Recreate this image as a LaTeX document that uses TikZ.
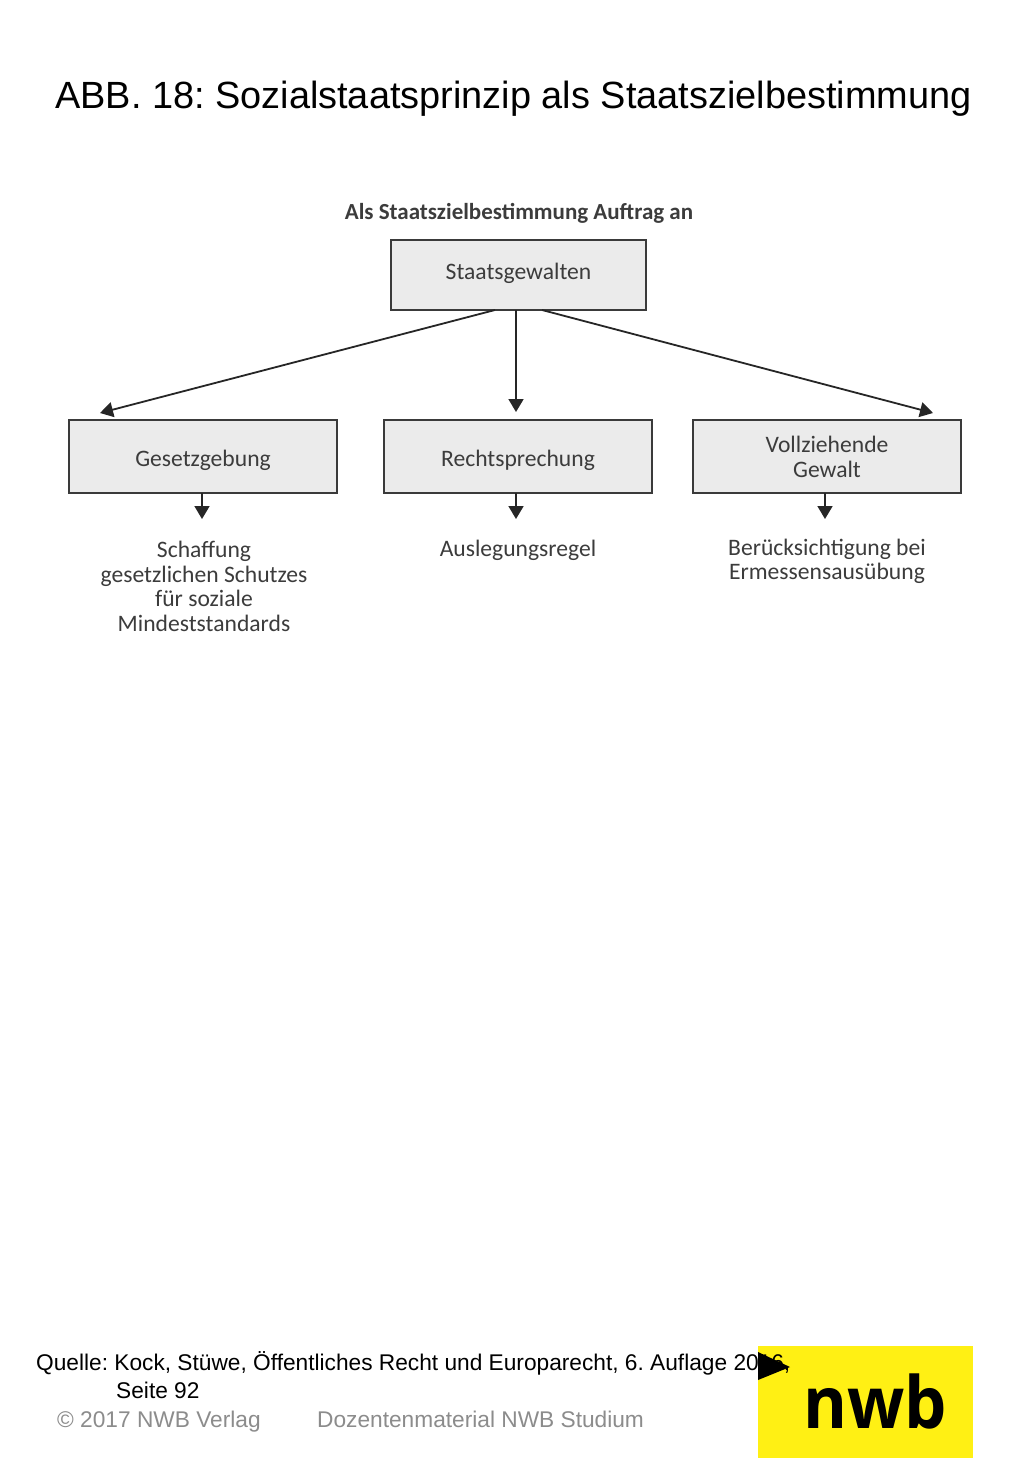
\documentclass[tikz,border=0pt]{standalone}
\usepackage{fontspec}
\setmainfont{Liberation Sans}
\newfontfamily\diag{Carlito}
\newfontfamily\logofont{Open Sans}
\usetikzlibrary{arrows.meta,calc}
\definecolor{boxfill}{HTML}{EBEBEB}
\definecolor{boxline}{HTML}{3A3A3A}
\definecolor{txtdiag}{HTML}{3C3C3C}
\definecolor{foot}{HTML}{8C8C8C}
\definecolor{nwbyellow}{HTML}{FFF014}
\tikzset{
  x=1pt,y=-1pt,
  boxnode/.style={draw=boxline,fill=boxfill,line width=2pt,inner sep=0pt,outer sep=0pt,anchor=north west,align=center,text=txtdiag,font=\diag\fontsize{23.6}{25}\selectfont},
  lbl/.style={inner sep=0pt,align=center,text=txtdiag,font=\diag\fontsize{23.6}{24.6}\selectfont},
  conn/.style={draw=black!85,line width=1.8pt,-{Stealth[length=13pt,width=15pt,inset=0pt]}},
  foottext/.style={inner sep=0pt,anchor=base west,font=\fontsize{22.7}{24}\selectfont},
}
\begin{document}
\frenchspacing
\begin{tikzpicture}
\useasboundingbox (0,0) rectangle (1024,1479);
\fill[white] (0,0) rectangle (1024,1479);
\node[inner sep=0pt,anchor=base west,font=\fontsize{37.9}{40}\selectfont] (title) at (55,109) {ABB. 18: Sozialstaatsprinzip als Staatszielbestimmung};
\node[inner sep=0pt,text=txtdiag,font=\diag\bfseries\fontsize{23}{24}\selectfont] (head) at (519,213) {Als Staatszielbestimmung Auftrag an};
\node[boxnode,minimum width=255pt,minimum height=70pt,text height=9.7pt,text depth=0pt] (sg) at (391,240) {Staatsgewalten};
\node[boxnode,minimum width=268pt,minimum height=73pt,text height=19.7pt,text depth=0pt] (ge) at (69,420) {Gesetzgebung};
\node[boxnode,minimum width=268pt,minimum height=73pt,text height=19.7pt,text depth=0pt] (re) at (384,420) {Rechtsprechung};
\node[boxnode,minimum width=268pt,minimum height=73pt] (vo) at (693,420) {Vollziehende\\Gewalt};
\node[lbl] (l1) at (204,586.5) {Schaffung\\gesetzlichen Schutzes\\für soziale\\Mindeststandards};
\node[lbl] (l2) at (518,550) {Auslegungsregel};
\node[lbl] (l3) at (827,561.5) {Berücksichtigung bei\\Ermessensausübung};
\coordinate (sgl) at (495,310);
\coordinate (sgm) at (516,310);
\coordinate (sgr) at (542,310);
\coordinate (gein) at (100,413);
\coordinate (rein) at (516,412);
\coordinate (voin) at (933,413);
\coordinate (geo) at (202,493);
\coordinate (reo) at (516,493);
\coordinate (voo) at (825,493);
\coordinate (gee) at (202,519);
\coordinate (ree) at (516,519);
\coordinate (voe) at (825,519);
\draw[conn] (sgl) -- (gein);
\draw[conn] (sgm) -- (rein);
\draw[conn] (sgr) -- (voin);
\draw[conn] (geo) -- (gee);
\draw[conn] (reo) -- (ree);
\draw[conn] (voo) -- (voe);
\fill[nwbyellow] (758,1346) rectangle (973,1458);
\node[inner sep=0pt,anchor=base west,font=\fontsize{22.7}{24}\selectfont] (src) at (36,1370) {Quelle: Kock, Stüwe, Öffentliches Recht und Europarecht, 6. Auflage 2016,};
\node[foottext] (src2) at (116,1398) {Seite 92};
\node[foottext,text=foot] (copy) at (57,1427) {© 2017 NWB Verlag};
\node[foottext,text=foot] (doz) at (317,1427) {Dozentenmaterial NWB Studium};
\fill[black] (758,1352) -- (790,1367) -- (758,1380) -- cycle;
\node[inner sep=0pt,anchor=base,xscale=0.93,font=\logofont\bfseries\fontsize{72}{72}\selectfont,text=black] (logo) at (875,1428) {nwb};
\end{tikzpicture}
\end{document}
